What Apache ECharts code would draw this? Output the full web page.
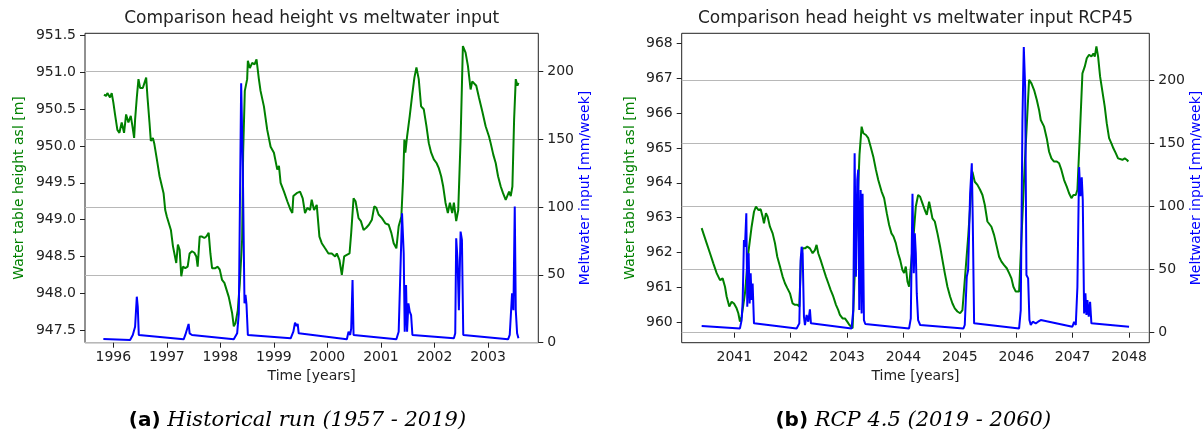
<!DOCTYPE html>
<html><head><meta charset="utf-8">
<script src="https://cdn.jsdelivr.net/npm/echarts@6/dist/echarts.min.js"></script>
<style>html,body{margin:0;padding:0;background:#fff}#c{width:1204px;height:436px}</style>
</head><body><div id="c"></div>
<script>
// ---------- (a) Historical run ----------
const histTime = [1995.825,1995.863,1995.888,1995.938,1995.969,1996.000,1996.031,1996.075,1996.113,1996.156,1996.200,1996.238,1996.281,1996.325,1996.356,1996.388,1996.406,1996.438,1996.469,1996.500,1996.550,1996.581,1996.613,1996.638,1996.675,1996.700,1996.738,1996.763,1996.813,1996.863,1996.938,1996.969,1997.000,1997.031,1997.075,1997.113,1997.175,1997.206,1997.238,1997.269,1997.300,1997.344,1997.388,1997.425,1997.469,1997.513,1997.550,1997.575,1997.613,1997.656,1997.700,1997.738,1997.781,1997.813,1997.844,1997.906,1997.950,1997.988,1998.031,1998.075,1998.156,1998.219,1998.250,1998.281,1998.325,1998.363,1998.406,1998.425,1998.456,1998.500,1998.513,1998.550,1998.594,1998.638,1998.675,1998.719,1998.750,1998.813,1998.875,1998.938,1999.000,1999.063,1999.094,1999.125,1999.188,1999.250,1999.313,1999.344,1999.363,1999.425,1999.488,1999.538,1999.581,1999.625,1999.675,1999.706,1999.750,1999.800,1999.850,1999.894,1999.956,2000.019,2000.081,2000.144,2000.175,2000.225,2000.269,2000.313,2000.363,2000.413,2000.444,2000.488,2000.525,2000.581,2000.625,2000.675,2000.725,2000.775,2000.831,2000.875,2000.913,2000.956,2001.019,2001.081,2001.144,2001.194,2001.238,2001.288,2001.331,2001.381,2001.413,2001.438,2001.456,2001.488,2001.538,2001.581,2001.625,2001.663,2001.706,2001.750,2001.800,2001.850,2001.894,2001.938,2001.988,2002.038,2002.081,2002.125,2002.163,2002.206,2002.250,2002.288,2002.331,2002.363,2002.406,2002.444,2002.488,2002.531,2002.581,2002.625,2002.675,2002.706,2002.738,2002.781,2002.831,2002.894,2002.956,2003.019,2003.050,2003.100,2003.144,2003.188,2003.238,2003.281,2003.331,2003.363,2003.394,2003.425,2003.456,2003.488,2003.519,2003.550,2003.569];
const histHead = [950.70,950.68,950.72,950.66,950.72,950.59,950.43,950.22,950.18,950.32,950.18,950.43,950.32,950.41,950.27,950.11,950.36,950.66,950.91,950.79,950.79,950.79,950.93,950.66,950.32,950.07,950.11,950.04,949.82,949.59,949.36,949.13,949.04,949.02,948.86,948.64,948.41,948.66,948.59,948.23,948.36,948.34,948.36,948.54,948.57,948.55,948.50,948.36,948.77,948.77,948.75,948.77,948.82,948.54,948.34,948.34,948.36,948.32,948.18,948.14,947.95,947.73,947.55,947.59,947.77,948.14,948.73,949.91,950.75,950.91,951.16,951.06,951.13,951.11,951.18,950.91,950.75,950.54,950.22,949.99,949.91,949.68,949.73,949.50,949.38,949.25,949.13,949.09,949.32,949.36,949.38,949.29,949.09,949.16,949.13,949.27,949.13,949.20,948.77,948.68,948.61,948.54,948.54,948.50,948.54,948.45,948.25,948.50,948.52,948.54,948.82,949.29,949.25,949.02,948.98,948.86,948.89,948.93,949.00,949.18,949.16,949.07,949.02,948.95,948.93,948.82,948.68,948.61,948.91,949.04,949.54,950.09,949.91,950.13,950.41,950.68,950.93,951.07,950.91,950.54,950.50,950.27,950.04,949.91,949.82,949.77,949.70,949.59,949.45,949.23,949.09,949.23,949.09,949.23,948.98,949.13,950.09,951.36,951.27,951.09,950.77,950.88,950.88,950.82,950.66,950.47,950.27,950.13,950.04,949.88,949.77,949.59,949.45,949.36,949.27,949.27,949.38,949.32,949.45,950.36,950.91,950.82,950.86];
const histMeltTime = [1995.813,1996.313,1996.363,1996.406,1996.438,1996.456,1996.475,1996.500,1997.313,1997.344,1997.375,1997.406,1997.425,1997.469,1998.250,1998.313,1998.344,1998.388,1998.419,1998.450,1998.469,1998.488,1998.513,1999.313,1999.363,1999.394,1999.425,1999.444,1999.463,1999.488,2000.363,2000.394,2000.425,2000.444,2000.469,2000.488,2000.519,2001.288,2001.331,2001.363,2001.394,2001.425,2001.444,2001.469,2001.488,2001.513,2001.538,2001.563,2001.588,2001.613,2002.363,2002.388,2002.406,2002.431,2002.456,2002.488,2002.513,2002.538,2002.569,2003.375,2003.406,2003.425,2003.450,2003.475,2003.500,2003.519,2003.544,2003.569];
const histMelt = [2.7,2.0,5.7,11.8,33.9,26.5,5.7,4.9,2.5,5.7,6.9,13.8,6.9,5.7,2.5,6.9,21.6,191.2,127,29,35.2,27.8,5.7,3.2,8.1,14.7,12.3,13.8,6.9,5.7,2.5,8.1,5.7,10.6,46.2,5.7,4.9,2.5,8.1,6.9,95.4,65.9,8.1,42.5,8.1,29,22.9,20.4,5.7,4.9,3.2,6.9,76.9,61,24,81.9,75.7,5.7,4.4,2.5,5.7,6.9,36.4,24,100.3,24,6.9,3.2];
const histYearTicks = [1996,1997,1998,1999,2000,2001,2002,2003];
const histHeadTicks = [947.5,948.0,948.5,949.0,949.5,950.0,950.5,951.0,951.5];

// ---------- (b) RCP 4.5 ----------
const rcpTime = [2040.421,2040.462,2040.509,2040.569,2040.628,2040.687,2040.746,2040.793,2040.835,2040.864,2040.911,2040.953,2040.994,2041.041,2041.071,2041.100,2041.130,2041.189,2041.248,2041.307,2041.349,2041.384,2041.426,2041.467,2041.502,2041.526,2041.561,2041.591,2041.632,2041.680,2041.721,2041.762,2041.810,2041.857,2041.898,2041.940,2041.987,2042.034,2042.076,2042.117,2042.153,2042.182,2042.212,2042.253,2042.294,2042.341,2042.389,2042.430,2042.459,2042.489,2042.530,2042.577,2042.625,2042.667,2042.708,2042.755,2042.803,2042.844,2042.873,2042.920,2042.962,2043.003,2043.039,2043.098,2043.220,2043.258,2043.288,2043.335,2043.376,2043.417,2043.465,2043.512,2043.553,2043.612,2043.657,2043.704,2043.746,2043.787,2043.823,2043.864,2043.905,2043.941,2043.982,2044.012,2044.041,2044.071,2044.100,2044.130,2044.180,2044.219,2044.260,2044.296,2044.337,2044.378,2044.414,2044.455,2044.485,2044.514,2044.556,2044.603,2044.650,2044.691,2044.733,2044.780,2044.827,2044.869,2044.910,2044.957,2045.005,2045.046,2045.150,2045.223,2045.264,2045.312,2045.359,2045.401,2045.442,2045.489,2045.519,2045.560,2045.608,2045.655,2045.696,2045.738,2045.785,2045.832,2045.874,2045.915,2045.950,2045.992,2046.021,2046.051,2046.150,2046.228,2046.270,2046.317,2046.364,2046.405,2046.435,2046.465,2046.494,2046.541,2046.583,2046.624,2046.671,2046.719,2046.760,2046.801,2046.849,2046.896,2046.937,2046.979,2047.014,2047.056,2047.085,2047.132,2047.174,2047.215,2047.251,2047.292,2047.333,2047.369,2047.393,2047.422,2047.452,2047.487,2047.528,2047.569,2047.605,2047.647,2047.688,2047.723,2047.765,2047.806,2047.841,2047.883,2047.924,2047.960,2047.989];
const rcpHead = [962.70,962.50,962.27,961.98,961.69,961.41,961.21,961.26,961.02,960.74,960.45,960.59,960.54,960.40,960.26,960.02,960.16,960.83,961.98,962.74,963.17,963.32,963.22,963.24,963.03,962.84,963.13,963.03,962.74,962.55,962.27,961.88,961.60,961.31,961.12,960.98,960.83,960.54,960.50,960.50,960.45,961.79,962.12,962.12,962.17,962.12,961.98,962.07,962.22,961.98,961.79,961.55,961.31,961.12,960.93,960.74,960.50,960.35,960.21,960.11,960.11,960.02,959.93,959.83,964.80,965.61,965.42,965.37,965.28,965.04,964.75,964.37,964.08,963.75,963.56,963.13,962.79,962.55,962.46,962.27,961.98,961.79,961.50,961.41,961.60,961.17,961.02,961.02,962.50,963.32,963.65,963.60,963.41,963.22,963.08,963.46,963.22,962.98,962.89,962.55,962.17,961.79,961.41,961.02,960.74,960.54,960.40,960.31,960.26,960.35,962.50,964.32,964.03,963.94,963.80,963.65,963.37,962.89,962.93,962.74,962.50,962.17,961.88,961.74,961.64,961.55,961.41,961.26,961.02,960.88,960.83,960.88,964.50,966.95,966.85,966.66,966.38,966.09,965.80,965.85,965.61,965.28,964.89,964.70,964.61,964.61,964.56,964.37,964.08,963.89,963.70,963.56,963.65,963.65,963.80,965.52,967.14,967.33,967.57,967.67,967.62,967.71,967.62,967.91,967.62,967.05,966.62,966.19,965.71,965.28,965.13,964.99,964.85,964.70,964.75,964.66,964.70,964.66,964.61];
const rcpMeltTime = [2040.421,2041.100,2041.130,2041.148,2041.171,2041.189,2041.213,2041.230,2041.254,2041.272,2041.290,2041.307,2041.325,2041.349,2041.384,2042.105,2042.153,2042.176,2042.194,2042.212,2042.235,2042.253,2042.283,2042.312,2042.341,2042.359,2043.080,2043.110,2043.134,2043.157,2043.181,2043.198,2043.216,2043.240,2043.258,2043.275,2043.299,2043.323,2044.100,2044.130,2044.160,2044.183,2044.201,2044.219,2044.236,2044.260,2044.296,2045.064,2045.087,2045.123,2045.147,2045.182,2045.212,2045.229,2045.253,2045.283,2046.051,2046.080,2046.110,2046.134,2046.158,2046.181,2046.211,2046.234,2046.258,2046.293,2046.346,2046.388,2046.435,2046.465,2046.996,2047.026,2047.056,2047.085,2047.115,2047.139,2047.162,2047.180,2047.204,2047.227,2047.245,2047.263,2047.286,2047.310,2047.333,2047.357,2048.001];
const rcpMelt = [5.3,3.4,10,24.5,73.4,68,94.5,20.6,62.8,23.2,47,25.9,39,7.4,6.1,3.4,7.4,57.5,68,62.8,12.7,6.1,14,8.7,18.5,7.4,3.4,17.9,142,44.3,121,129,17.9,113,15.3,110,10,6.9,3.4,11.3,110,47,78.6,62.8,31.1,10,6.1,3.4,6.1,44.3,49.6,110,134,89.2,7.4,6.9,3.4,17.9,168,226,195,45.6,43,10,6.1,8.7,7.4,8.7,10,8.7,4.7,8.7,6.1,36.4,131,108,123,105,15.3,31.1,14,25.9,12.7,24.5,7.4,6.9,4.7];
const rcpYearTicks = [2041,2042,2043,2044,2045,2046,2047,2048];
const rcpHeadTicks = [960,961,962,963,964,965,966,967,968];

const meltTicks = [0,50,100,150,200];

// ---------- build ----------
const FONT = 'DejaVu Sans';
const INK = '#222';
const GREEN = '#008000';
const BLUE = '#0000ff';
function pairs(t, v) { return t.map((x, i) => [x, v[i]]); }

function tickStyle(ticks) {
  return { show: true, length: 5, inside: false, lineStyle: { color: INK, width: 1 }, customValues: ticks };
}
function labelStyle(ticks, fmt) {
  return { customValues: ticks, color: INK, fontSize: 14, fontFamily: FONT, margin: 9, formatter: fmt };
}
const plain = v => String(Math.round(v));
function xAx(grid, min, max, ticks) {
  return {
    type: 'value', gridIndex: grid, min: min, max: max,
    name: 'Time [years]', nameLocation: 'middle', nameGap: 27,
    nameTextStyle: { color: INK, fontSize: 14, fontFamily: FONT },
    axisLine: { show: false }, axisTick: tickStyle(ticks),
    axisLabel: Object.assign(labelStyle(ticks, plain), { margin: 8 }),
    splitLine: { show: false }
  };
}
function yAx(grid, pos, min, max, ticks, name, color, gap, gridLines, fmt) {
  return {
    type: 'value', gridIndex: grid, position: pos, min: min, max: max,
    name: name, nameLocation: 'middle', nameGap: gap, nameRotate: 90,
    nameTextStyle: { color: color, fontSize: 14, fontFamily: FONT },
    axisLine: { show: false }, axisTick: tickStyle(ticks),
    axisLabel: labelStyle(ticks, fmt),
    splitLine: { show: gridLines, lineStyle: { color: '#b8b8b8', width: 1 } }
  };
}
function gridBox(left, width) {
  return { left: left, top: 33.3, width: width, height: 309.4, show: true,
    borderColor: INK, borderWidth: 1, backgroundColor: 'transparent', outerBoundsMode: 'none', containLabel: false };
}
function lineSeries(xi, yi, data, color) {
  return { type: 'line', xAxisIndex: xi, yAxisIndex: yi, data: data, showSymbol: false, symbol: 'none',
    lineStyle: { color: color, width: 2 }, itemStyle: { color: color }, animation: false, silent: true };
}
const titleStyle = { fontSize: 17, fontWeight: 'normal', color: INK, fontFamily: FONT, lineHeight: 20 };
const capRich = {
  b: { fontWeight: 'bold', fontStyle: 'normal', fontFamily: 'DejaVu Sans', fontSize: 20, color: '#000', lineHeight: 26 },
  i: { fontWeight: 'normal', fontStyle: 'italic', fontFamily: 'DejaVu Serif', fontSize: 21, color: '#000', lineHeight: 26 }
};
const capStyle = { fontSize: 21, fontWeight: 'normal', fontFamily: 'DejaVu Serif', color: '#000', rich: capRich };

const option = {
  backgroundColor: '#fff',
  animation: false,
  title: [
    { text: 'Comparison head height vs meltwater input', left: 311.7, top: 9, textAlign: 'center', padding: 0, textStyle: titleStyle },
    { text: 'Comparison head height vs meltwater input RCP45', left: 915.5, top: 9, textAlign: 'center', padding: 0, textStyle: titleStyle },
    { text: '{b|(a)} {i|Historical run (1957 - 2019)}', left: 297.5, top: 408, textAlign: 'center', padding: 0, textStyle: capStyle },
    { text: '{b|(b)} {i|RCP 4.5 (2019 - 2060)}', left: 913.3, top: 408, textAlign: 'center', padding: 0, textStyle: capStyle }
  ],
  grid: [gridBox(85, 453.3), gridBox(681.7, 467.6)],
  xAxis: [
    xAx(0, 1995.47, 2003.94, histYearTicks),
    xAx(1, 2040.067, 2048.36, rcpYearTicks)
  ],
  yAxis: [
    yAx(0, 'left', 947.327, 951.533, histHeadTicks, 'Water table height asl [m]', GREEN, 59, false, v => v.toFixed(1)),
    yAx(0, 'right', 0, 228, meltTicks, 'Meltwater input [mm/week]', BLUE, 39, true, plain),
    yAx(1, 'left', 959.415, 968.287, rcpHeadTicks, 'Water table height asl [m]', GREEN, 44, false, plain),
    yAx(1, 'right', -7.9, 236.9, meltTicks, 'Meltwater input [mm/week]', BLUE, 39, true, plain)
  ],
  series: [
    lineSeries(0, 0, pairs(histTime, histHead), GREEN),
    lineSeries(0, 1, pairs(histMeltTime, histMelt), BLUE),
    lineSeries(1, 2, pairs(rcpTime, rcpHead), GREEN),
    lineSeries(1, 3, pairs(rcpMeltTime, rcpMelt), BLUE)
  ]
};
const chart = echarts.init(document.getElementById('c'));
chart.setOption(option);
</script>
</body></html>
